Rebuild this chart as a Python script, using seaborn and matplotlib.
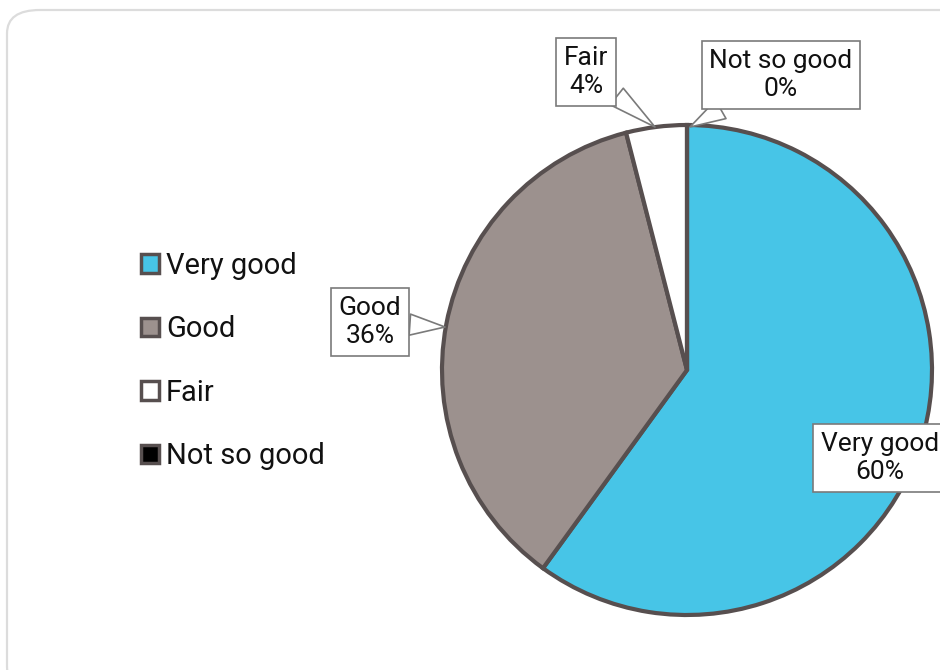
import matplotlib
matplotlib.use("Agg")
import matplotlib.pyplot as plt
from matplotlib.patches import Patch, FancyBboxPatch
import seaborn as sns

categories = ["Very good", "Good", "Fair", "Not so good"]
shares = [60, 36, 4, 0]
colors = ["#47C5E7", "#9C918E", "#FFFFFF", "#000000"]

sns.set_theme(style="white")
plt.rcParams["font.family"] = ["Roboto", "DejaVu Sans"]

W, H = 940, 670
fig = plt.figure(figsize=(W / 100, H / 100), dpi=100)

# rounded card outline around the chart
card = FancyBboxPatch((7 / W, -20 / H), 980 / W, 680 / H,
                      boxstyle="round,pad=0,rounding_size=0.035",
                      transform=fig.transFigure, fc="none", ec="#DCDCDC",
                      lw=1.6, zorder=-1)
fig.patches.append(card)

# axes in units of the pie radius (245 px), centre of the pie at (687, 370) px
R = 245.0
cx, cy = 687.0, 370.0
ax = fig.add_axes([0, 0, 1, 1])
ax.patch.set_alpha(0)

edge = "#574F4F"
wedges, _ = ax.pie(shares, colors=colors, startangle=90, counterclock=False,
                   radius=1.0, center=(0, 0), normalize=True,
                   wedgeprops=dict(edgecolor=edge, linewidth=3.0))
ax.set_xlim(-cx / R, (W - cx) / R)
ax.set_ylim(-(H - cy) / R, cy / R)
ax.set_aspect("auto")
ax.set_axis_off()

def px(x, y):
    return ((x - cx) / R, (cy - y) / R)

box = dict(boxstyle="square,pad=0.3", fc="white", ec="#7A7A7A", lw=1.2)
label_font = 19

callouts = {
    "Very good": (px(880, 458), None),
    "Good": (px(370, 322), px(445, 327)),
    "Fair": (px(586, 72), px(655, 127)),
    "Not so good": (px(781, 75), px(690, 127)),
}
for cat, val in zip(categories, shares):
    text_xy, tip = callouts[cat]
    txt = f"{cat}\n{val}%"
    if tip is None:
        ax.text(*text_xy, txt, ha="center", va="center", fontsize=label_font,
                color="#111111", bbox=box, zorder=5, linespacing=1.2)
    else:
        ax.annotate(txt, xy=tip, xytext=text_xy, ha="center", va="center",
                    fontsize=label_font, color="#111111", bbox=box, zorder=5,
                    linespacing=1.2,
                    arrowprops=dict(arrowstyle="wedge,tail_width=0.8,shrink_factor=0.5",
                                    fc="white", ec="#7A7A7A", lw=1.2,
                                    shrinkA=0, shrinkB=0))

handles = [Patch(facecolor=c, edgecolor=edge, linewidth=2.5) for c in colors]
leg = fig.legend(handles, categories, loc="center left",
                 bbox_to_anchor=(115 / W, 1 - 361 / H), frameon=False,
                 fontsize=21, handlelength=0.6, handleheight=0.6,
                 handletextpad=0.25, labelspacing=1.22)
for t in leg.get_texts():
    t.set_color("#111111")

fig.savefig("out.png", dpi=100)
